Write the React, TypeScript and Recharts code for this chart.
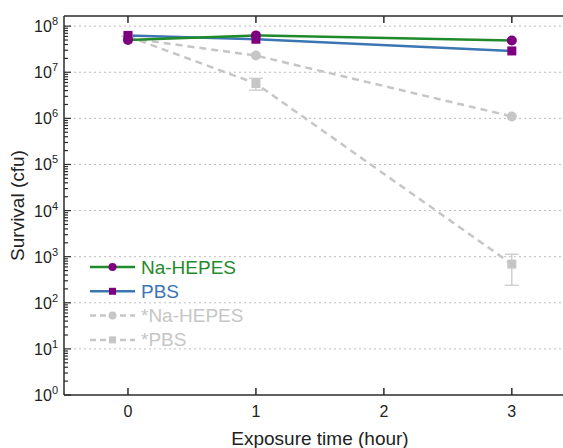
import React from 'react';
import { LineChart, Line, XAxis, YAxis, ReferenceLine, ErrorBar, Customized } from 'recharts';

// Exposure times (hours)
const hours = [0, 1, 3];

// Surviving counts (cfu) per buffer
const naHepes = [5.0e7, 6.3e7, 4.9e7];
const pbs = [6.3e7, 5.2e7, 2.9e7];
const naHepesStar = [5.5e7, 2.3e7, 1.1e6];
const pbsStar = [6.0e7, 5.7e6, 690];
// [below, above] spread of *PBS
const pbsStarErr: [number, number][] = [[0, 0], [1.6e6, 1.7e6], [450, 440]];

const xTicks = [0, 1, 2, 3];
const xDomain = [-0.5, 3.4];
const decades = [0, 1, 2, 3, 4, 5, 6, 7, 8];

const FONT = '"Liberation Sans", Arial, sans-serif';
const GREEN = '#1f8a2a';
const BLUE = '#3b76b3';
const PURPLE = '#7f007f';
const GRAY = '#c6c6c6';
const AXIS = '#2b2b2b';

const data = hours.map((h, i) => ({
  hour: h,
  naHepes: naHepes[i],
  pbs: pbs[i],
  naHepesStar: naHepesStar[i],
  pbsStar: pbsStar[i],
  pbsStarErr: pbsStarErr[i],
}));

const yTicks = decades.flatMap((d) =>
  d < 8 ? [Math.pow(10, d), ...[2, 3, 4, 5, 6, 7, 8, 9].map((m) => m * Math.pow(10, d))] : [Math.pow(10, d)]
);

const series = [
  { key: 'naHepes', name: 'Na-HEPES', color: GREEN, text: GREEN, marker: 'circle', markerFill: PURPLE, dash: undefined },
  { key: 'pbs', name: 'PBS', color: BLUE, text: BLUE, marker: 'square', markerFill: PURPLE, dash: undefined },
  { key: 'naHepesStar', name: '*Na-HEPES', color: GRAY, text: GRAY, marker: 'circle', markerFill: GRAY, dash: '6 4' },
  { key: 'pbsStar', name: '*PBS', color: GRAY, text: GRAY, marker: 'square', markerFill: GRAY, dash: '6 4' },
];

const circleDot = (fill: string, r: number) => (p: any) => (
  <circle key={`c-${p.dataKey}-${p.index}`} cx={p.cx} cy={p.cy} r={r} fill={fill} />
);
const squareDot = (fill: string, s: number) => (p: any) => (
  <rect key={`s-${p.dataKey}-${p.index}`} x={p.cx - s / 2} y={p.cy - s / 2} width={s} height={s} fill={fill} />
);

const YTick = (props: any) => {
  const { x, y, payload } = props;
  const lg = Math.log10(payload.value);
  const e = Math.round(lg);
  const major = Math.abs(lg - e) < 1e-6;
  return (
    <g>
      <line x1={x} x2={x + (major ? 7 : 4)} y1={y} y2={y} stroke={AXIS} strokeWidth={1.2} />
      {major && (
        <text x={x - 6} y={y + 6} textAnchor="end" fontSize={16} fontFamily={FONT} fill="#222">
          10
          <tspan dy={-7} fontSize={11}>
            {e}
          </tspan>
        </text>
      )}
    </g>
  );
};

const XTick = (props: any) => {
  const { x, y, payload } = props;
  return (
    <g>
      <line x1={x} x2={x} y1={y} y2={y - 7} stroke={AXIS} strokeWidth={1.5} />
      <text x={x} y={y + 22} textAnchor="middle" fontSize={16} fontFamily={FONT} fill="#222">
        {payload.value}
      </text>
    </g>
  );
};

const TopTick = (props: any) => {
  const { x, y } = props;
  return <line x1={x} x2={x} y1={y} y2={y + 7} stroke={AXIS} strokeWidth={1.5} />;
};

const XTitle = () => (
  <text x={312} y={430} textAnchor="middle" dominantBaseline="central" fontSize={19} fontFamily={FONT} fill="#222">
    Exposure time (hour)
  </text>
);

const YTitle = (props: any) => {
  const vb = props.viewBox || {};
  const cx = 9;
  const cy = vb.y + vb.height / 2;
  return (
    <text x={cx} y={cy} transform={`rotate(-90 ${cx} ${cy})`} textAnchor="middle" dominantBaseline="central" fontSize={19} fontFamily={FONT} fill="#222">
      Survival (cfu)
    </text>
  );
};

// Legend block drawn inside the plot's lower-left corner
const LegendBox = () => (
  <g transform="translate(82 247)">
    {series.map((s, i) => {
      const y = 12 + i * 24.3;
      return (
        <g key={s.key}>
          <line x1={0} x2={45} y1={y} y2={y} stroke={s.color} strokeWidth={2.5} strokeDasharray={s.dash} />
          {s.marker === 'circle' ? (
            <circle cx={22.5} cy={y} r={4} fill={s.markerFill} />
          ) : (
            <rect x={19} y={y - 3.5} width={7} height={7} fill={s.markerFill} />
          )}
          <text x={51} y={y} dominantBaseline="central" fontSize={19} fontFamily={FONT} fill={s.text}>
            {s.name}
          </text>
        </g>
      );
    })}
  </g>
);

export default function App() {
  return (
    <div style={{ position: 'fixed', left: 8, top: 8, width: 555, height: 440, overflow: 'hidden', background: '#fff' }}>
      <LineChart width={555} height={440} data={data} margin={{ top: 7, right: 0, bottom: 0, left: 0 }}>
        <XAxis
          dataKey="hour"
          type="number"
          domain={xDomain}
          ticks={xTicks}
          allowDataOverflow
          height={53}
          tickSize={0}
          tickMargin={0}
          tickLine={false}
          tick={<XTick />}
          axisLine={{ stroke: AXIS, strokeWidth: 1.5 }}
          label={<XTitle />}
        />
        <XAxis
          xAxisId="top"
          orientation="top"
          dataKey="hour"
          type="number"
          domain={xDomain}
          ticks={xTicks}
          allowDataOverflow
          height={1}
          tickSize={0}
          tickMargin={0}
          tickLine={false}
          tick={<TopTick />}
          axisLine={{ stroke: AXIS, strokeWidth: 1.5 }}
        />
        <YAxis
          scale="log"
          type="number"
          domain={[1, 1.66e8]}
          allowDataOverflow
          ticks={yTicks}
          interval={0}
          width={56}
          tickSize={0}
          tickMargin={0}
          tickLine={false}
          tick={<YTick />}
          axisLine={{ stroke: AXIS, strokeWidth: 1.5 }}
          label={<YTitle />}
        />
        {decades.slice(1).map((d) => (
          <ReferenceLine key={d} y={Math.pow(10, d)} stroke="#bdbdbd" strokeWidth={1} strokeDasharray="2 3" />
        ))}
        <Line
          dataKey="naHepesStar"
          name="*Na-HEPES"
          stroke={GRAY}
          strokeWidth={2.5}
          strokeDasharray="7 5"
          dot={circleDot(GRAY, 5)}
          activeDot={false}
          isAnimationActive={false}
        />
        <Line
          dataKey="pbsStar"
          name="*PBS"
          stroke={GRAY}
          strokeWidth={2.5}
          strokeDasharray="7 5"
          dot={squareDot(GRAY, 9)}
          activeDot={false}
          isAnimationActive={false}
        >
          <ErrorBar dataKey="pbsStarErr" direction="y" width={7} stroke={GRAY} strokeWidth={1.2} />
        </Line>
        <Line
          dataKey="pbs"
          name="PBS"
          stroke={BLUE}
          strokeWidth={2.5}
          dot={squareDot(PURPLE, 9)}
          activeDot={false}
          isAnimationActive={false}
        />
        <Line
          dataKey="naHepes"
          name="Na-HEPES"
          stroke={GREEN}
          strokeWidth={2.5}
          dot={circleDot(PURPLE, 5)}
          activeDot={false}
          isAnimationActive={false}
        />
        <Customized component={LegendBox} />
      </LineChart>
    </div>
  );
}
